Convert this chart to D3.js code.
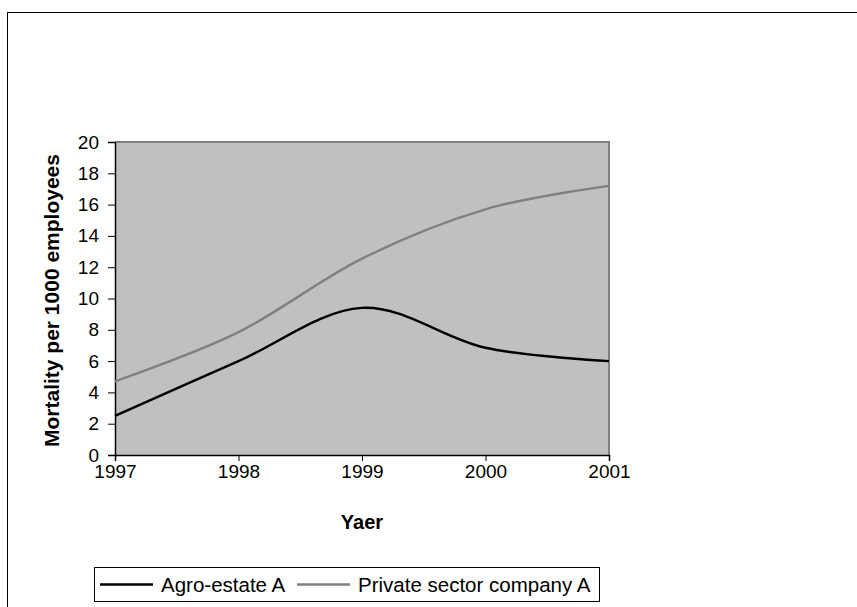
<!DOCTYPE html>
<html>
<head>
<meta charset="utf-8">
<script src="https://cdn.jsdelivr.net/npm/d3@7"></script>
<style>
  html, body { margin: 0; padding: 0; background: #fff; }
  text { font-family: Arial, "Liberation Sans", sans-serif; fill: #000; }
</style>
</head>
<body>
<svg id="chart" width="857" height="607"></svg>
<script>
const years = [1997, 1998, 1999, 2000, 2001];
const agroEstateA = [2.5, 6.0, 9.4, 6.85, 6.0];
const privateCompanyA = [4.7, 7.85, 12.55, 15.7, 17.2];
const yTicks = [0, 2, 4, 6, 8, 10, 12, 14, 16, 18, 20];
const seriesNames = ["Agro-estate A", "Private sector company A"];
const seriesColors = ["#000000", "#808080"];

const svg = d3.select("#chart");
const W = 857, H = 607;

// outer chart border
svg.append("rect").attr("x", 7.5).attr("y", 12.5).attr("width", W + 10).attr("height", H + 10)
  .attr("fill", "#fff").attr("stroke", "#000").attr("stroke-width", 1);

const plot = { left: 115, right: 609, top: 142, bottom: 455 };
const x = d3.scaleLinear().domain([1997, 2001]).range([plot.left, plot.right]);
const y = d3.scaleLinear().domain([0, 20]).range([plot.bottom, plot.top]);

// plot background
svg.append("rect").attr("x", plot.left).attr("y", plot.top)
  .attr("width", plot.right - plot.left).attr("height", plot.bottom - plot.top)
  .attr("fill", "#c0c0c0");
// top & right border (gray)
svg.append("path")
  .attr("d", `M${plot.left},${plot.top}H${plot.right}V${plot.bottom}`)
  .attr("fill", "none").attr("stroke", "#808080").attr("stroke-width", 2);

// axes
const yAxis = d3.axisLeft(y).tickValues(yTicks).tickSize(7).tickPadding(9).tickFormat(d3.format("d"));
const gy = svg.append("g").attr("transform", `translate(${plot.left},0)`).call(yAxis);
const xAxis = d3.axisBottom(x).tickValues(years).tickSize(6).tickPadding(4).tickFormat(d3.format("d"));
const gx = svg.append("g").attr("transform", `translate(0,${plot.bottom})`).call(xAxis);
[gy, gx].forEach(g => {
  g.select(".domain").attr("stroke", "#000").attr("stroke-width", 1.5);
  g.selectAll(".tick line").attr("stroke", "#000").attr("stroke-width", 1);
  g.selectAll(".tick text").attr("font-size", 19).attr("font-family", "Arial, 'Liberation Sans', sans-serif").attr("fill", "#000");
});

// lines
const line = d3.line().x((d, i) => x(years[i])).y(d => y(d)).curve(d3.curveCardinal.tension(0));
const seriesData = [agroEstateA, privateCompanyA];
seriesData.forEach((s, k) => {
  svg.append("path").datum(s).attr("d", line)
    .attr("fill", "none").attr("stroke", seriesColors[k]).attr("stroke-width", 2.4)
    .attr("stroke-linejoin", "round");
});

// axis titles
svg.append("text").attr("transform", `translate(59,${(plot.top + plot.bottom) / 2 + 2}) rotate(-90)`)
  .attr("text-anchor", "middle").attr("font-size", 21).attr("font-weight", "bold")
  .text("Mortality per 1000 employees");
svg.append("text").attr("x", (plot.left + plot.right) / 2).attr("y", 529)
  .attr("text-anchor", "middle").attr("font-size", 20).attr("font-weight", "bold")
  .text("Yaer");

// legend
const lg = svg.append("g");
lg.append("rect").attr("x", 94.5).attr("y", 567.5).attr("width", 505).attr("height", 34)
  .attr("fill", "#fff").attr("stroke", "#000").attr("stroke-width", 1);
const legendX = [100, 297];
seriesNames.forEach((name, k) => {
  lg.append("line").attr("x1", legendX[k]).attr("x2", legendX[k] + 53)
    .attr("y1", 584.5).attr("y2", 584.5)
    .attr("stroke", seriesColors[k]).attr("stroke-width", 2.4);
  lg.append("text").attr("x", legendX[k] + 61).attr("y", 591.5)
    .attr("font-size", 20.5).text(name);
});
</script>
</body>
</html>
